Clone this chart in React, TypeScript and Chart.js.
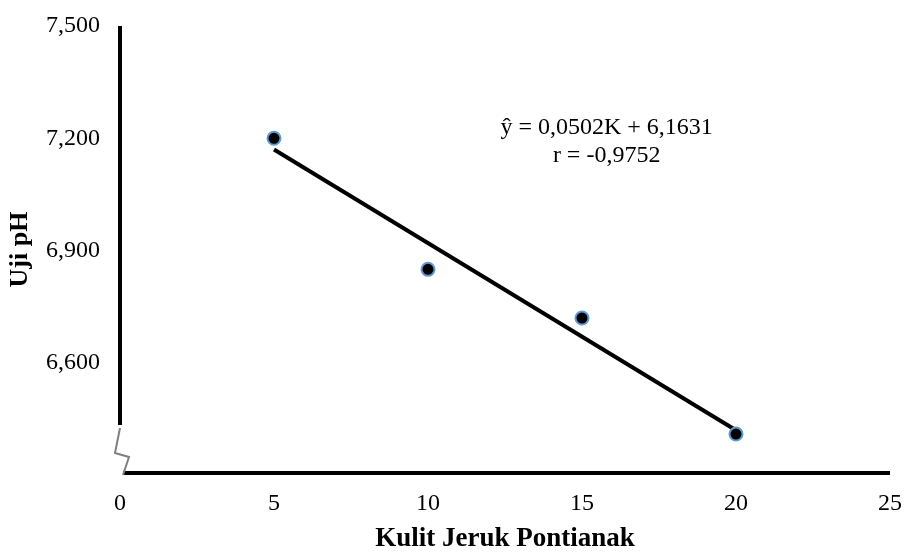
import React, { useEffect, useRef } from "react";
import { Chart, registerables } from "chart.js";

Chart.register(...registerables);

const kulitJeruk = [5, 10, 15, 20];
const ujiPH = [7.2, 6.85, 6.72, 6.41];
const regressionX = [5, 20];
const regressionY = [7.17, 6.42];
const yTickValues = [6.6, 6.9, 7.2, 7.5];
const yTickLabels = ["6,600", "6,900", "7,200", "7,500"];
const equationLines = ["ŷ = 0,0502K + 6,1631", "r = -0,9752"];
const equationPos = { x: 15.8, y: [7.229, 7.154] };

const FONT = "'Liberation Serif', 'Times New Roman', serif";

const decorPlugin = {
  id: "decor",
  afterDraw(chart: any) {
    const { ctx, chartArea, scales } = chart;
    const left = chartArea.left;
    const bottom = chartArea.bottom;
    ctx.save();
    ctx.strokeStyle = "#000";
    ctx.lineWidth = 4;
    ctx.beginPath();
    ctx.moveTo(left, chartArea.top);
    ctx.lineTo(left, bottom - 48);
    ctx.stroke();
    ctx.beginPath();
    ctx.moveTo(left + 3, bottom);
    ctx.lineTo(chartArea.right, bottom);
    ctx.stroke();
    ctx.strokeStyle = "#808080";
    ctx.lineWidth = 2;
    ctx.beginPath();
    ctx.moveTo(left, bottom - 45);
    ctx.lineTo(left - 5, bottom - 20);
    ctx.lineTo(left + 9, bottom - 16);
    ctx.lineTo(left + 3, bottom + 2);
    ctx.stroke();
    ctx.fillStyle = "#000";
    ctx.font = `24px ${FONT}`;
    ctx.textAlign = "center";
    ctx.textBaseline = "middle";
    const px = scales.x.getPixelForValue(equationPos.x);
    equationLines.forEach((t, i) => {
      ctx.fillText(t, px, scales.y.getPixelForValue(equationPos.y[i]));
    });
    ctx.restore();
  },
};

export default function App() {
  const ref = useRef<HTMLCanvasElement>(null);
  useEffect(() => {
    const chart = new Chart(ref.current!, {
      type: "scatter",
      data: {
        datasets: [
          {
            label: "Uji pH",
            data: kulitJeruk.map((x, i) => ({ x, y: ujiPH[i] })),
            backgroundColor: "#000",
            borderColor: "#5B9BD5",
            borderWidth: 2,
            pointRadius: 6.5,
            showLine: false,
          },
          {
            label: "Regresi",
            data: regressionX.map((x, i) => ({ x, y: regressionY[i] })),
            borderColor: "#000",
            borderWidth: 4,
            pointRadius: 0,
            showLine: true,
          },
        ],
      },
      options: {
        animation: false,
        responsive: false,
        maintainAspectRatio: false,
        layout: { padding: { top: 26, right: 14, left: 0, bottom: 0 } },
        plugins: { legend: { display: false }, tooltip: { enabled: false } },
        scales: {
          x: {
            type: "linear",
            min: 0,
            max: 25,
            grid: { display: false, drawTicks: false },
            border: { display: false },
            ticks: {
              stepSize: 5,
              color: "#000",
              padding: 16,
              font: { family: FONT, size: 24 },
            },
            title: {
              display: true,
              text: "Kulit Jeruk Pontianak",
              color: "#000",
              font: { family: FONT, size: 27, weight: "bold" },
              padding: { top: 0, bottom: -3 },
            },
            afterFit(scale: any) {
              scale.height = 79;
              scale.paddingLeft = 0;
              scale.paddingRight = 0;
            },
          },
          y: {
            type: "linear",
            min: 6.306,
            max: 7.5,
            grid: { display: false, drawTicks: false },
            border: { display: false },
            afterBuildTicks(scale: any) {
              scale.ticks = yTickValues.map((v) => ({ value: v }));
            },
            ticks: {
              color: "#000",
              padding: 20,
              font: { family: FONT, size: 24 },
              callback: (v: any) => {
                const i = yTickValues.findIndex((t) => Math.abs(t - Number(v)) < 1e-6);
                return i >= 0 ? yTickLabels[i] : "";
              },
            },
            title: {
              display: true,
              text: "Uji pH",
              color: "#000",
              font: { family: FONT, size: 26, weight: "bold" },
              padding: { top: 5, bottom: 0 },
            },
            afterFit(scale: any) {
              scale.width = 120;
              scale.paddingTop = 0;
              scale.paddingBottom = 0;
            },
          },
        },
      } as any,
      plugins: [decorPlugin],
    });
    return () => chart.destroy();
  }, []);
  return (
    <div style={{ position: "fixed", left: 0, top: 0, width: 904, height: 552, background: "#fff" }}>
      <canvas ref={ref} width={904} height={552} style={{ width: 904, height: 552 }} />
    </div>
  );
}
